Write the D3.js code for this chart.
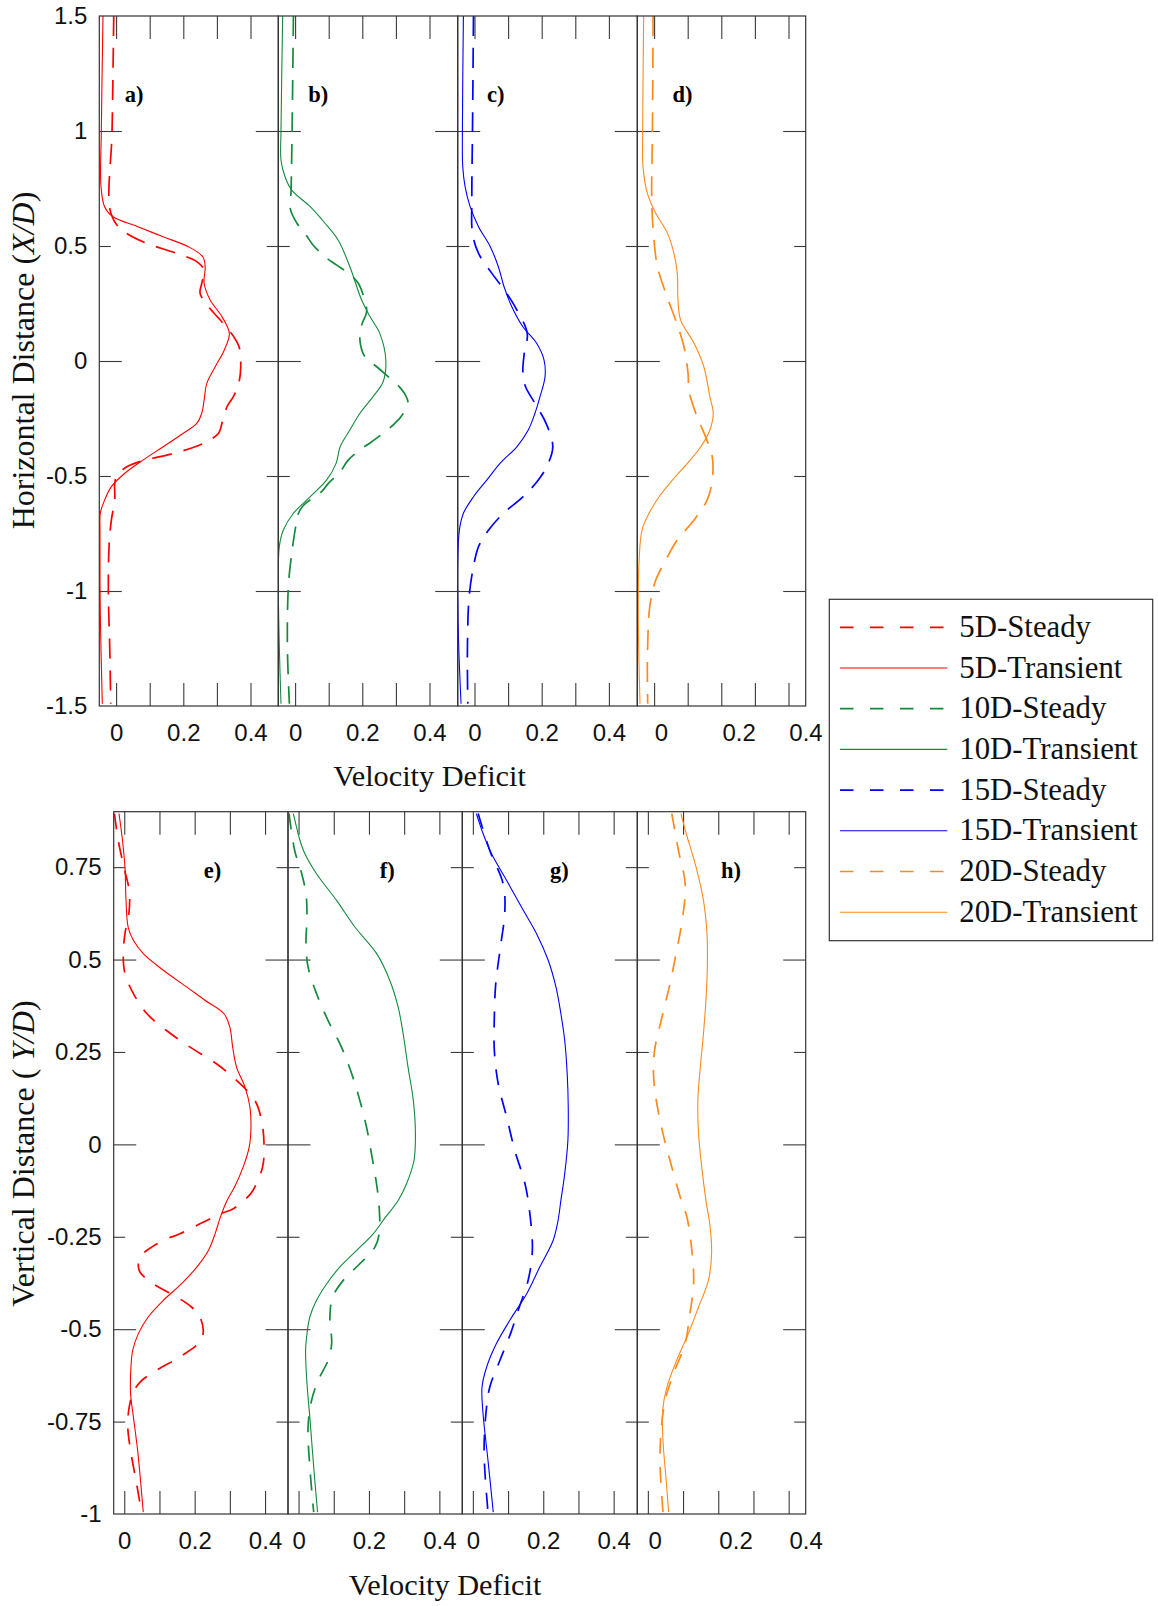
<!DOCTYPE html>
<html><head><meta charset="utf-8">
<script src="https://cdn.jsdelivr.net/npm/d3@7/dist/d3.min.js"></script>
<style>body{margin:0;background:#fff}</style>
</head><body>
<script>
// ---------------- DATA (position, velocity deficit) ----------------
const seriesNames = ["5D-Steady","5D-Transient","10D-Steady","10D-Transient","15D-Steady","15D-Transient","20D-Steady","20D-Transient"];
const topLetters = ["a)","b)","c)","d)"];
const botLetters = ["e)","f)","g)","h)"];
const xTickValues = [0,0.1,0.2,0.3,0.4];
const xTickLabels = [0,0.2,0.4];
const topYMajor = [-1,0,1];
const topYMinor = [-0.5,0.5];
const topYLabels = [-1.5,-1,-0.5,0,0.5,1,1.5];
const botYMajor = [-0.5,0,0.5];
const botYMinor = [-0.75,-0.25,0.25,0.75];
const botYLabels = [-1,-0.75,-0.5,-0.25,0,0.25,0.5,0.75];

// horizontal profiles (X/D, deficit)
const a_steady = [[1.5,-0.007],[1.0,-0.012],[0.657,-0.018],[0.584,0.006],[0.555,0.031],[0.512,0.09],[0.468,0.18],[0.432,0.24],[0.396,0.262],[0.338,0.255],[0.294,0.25],[0.236,0.275],[0.178,0.31],[0.106,0.35],[0.062,0.366],[-0.025,0.371],[-0.097,0.365],[-0.155,0.349],[-0.199,0.33],[-0.271,0.315],[-0.314,0.305],[-0.358,0.26],[-0.378,0.225],[-0.406,0.16],[-0.433,0.08],[-0.457,0.036],[-0.496,0.003],[-0.533,-0.004],[-0.604,-0.004],[-0.691,-0.014],[-0.807,-0.021],[-1.01,-0.023],[-1.242,-0.019],[-1.49,-0.016]];
const a_transient = [[1.5,-0.039],[1.0,-0.044],[0.76,-0.045],[0.67,-0.034],[0.627,-0.009],[0.584,0.065],[0.54,0.14],[0.497,0.215],[0.453,0.258],[0.41,0.265],[0.338,0.262],[0.265,0.28],[0.193,0.315],[0.12,0.337],[0.048,0.322],[-0.025,0.295],[-0.097,0.27],[-0.17,0.262],[-0.227,0.255],[-0.271,0.24],[-0.314,0.2],[-0.373,0.14],[-0.43,0.081],[-0.488,0.026],[-0.546,-0.014],[-0.604,-0.034],[-0.662,-0.047],[-0.735,-0.048],[-1.1,-0.047],[-1.49,-0.041]];
const b_steady = [[1.5,-0.005],[1.0,-0.009],[0.74,-0.012],[0.66,-0.014],[0.6,0.005],[0.547,0.033],[0.503,0.054],[0.453,0.089],[0.417,0.124],[0.381,0.158],[0.338,0.188],[0.258,0.208],[0.214,0.213],[0.156,0.198],[0.09,0.193],[0.018,0.208],[-0.025,0.243],[-0.068,0.277],[-0.104,0.305],[-0.14,0.325],[-0.184,0.336],[-0.242,0.315],[-0.271,0.297],[-0.314,0.262],[-0.351,0.228],[-0.387,0.193],[-0.431,0.158],[-0.482,0.134],[-0.532,0.099],[-0.568,0.079],[-0.626,0.026],[-0.662,0.01],[-0.735,0.0],[-0.836,-0.01],[-0.981,-0.02],[-1.24,-0.023],[-1.49,-0.017]];
const b_transient = [[1.5,-0.037],[1.0,-0.042],[0.874,-0.042],[0.801,-0.03],[0.743,-0.01],[0.671,0.045],[0.599,0.089],[0.526,0.128],[0.41,0.163],[0.265,0.198],[0.193,0.223],[0.12,0.252],[0.004,0.27],[-0.09,0.262],[-0.155,0.232],[-0.227,0.193],[-0.3,0.163],[-0.373,0.134],[-0.445,0.122],[-0.517,0.094],[-0.59,0.045],[-0.662,-0.005],[-0.735,-0.035],[-0.807,-0.047],[-0.952,-0.05],[-1.24,-0.047],[-1.49,-0.042]];
const c_steady = [[1.5,-0.003],[1.0,-0.006],[0.7,-0.008],[0.555,-0.006],[0.468,0.012],[0.381,0.052],[0.294,0.096],[0.222,0.126],[0.12,0.157],[0.033,0.148],[-0.054,0.144],[-0.112,0.152],[-0.184,0.18],[-0.271,0.213],[-0.373,0.233],[-0.459,0.215],[-0.517,0.19],[-0.59,0.145],[-0.662,0.086],[-0.735,0.042],[-0.807,0.012],[-0.894,-0.003],[-1.025,-0.016],[-1.24,-0.021],[-1.49,-0.02]];
const c_transient = [[1.5,-0.033],[1.0,-0.036],[0.845,-0.035],[0.758,-0.028],[0.671,-0.013],[0.584,0.012],[0.497,0.047],[0.41,0.071],[0.323,0.088],[0.236,0.111],[0.149,0.144],[0.077,0.185],[0.004,0.207],[-0.068,0.21],[-0.155,0.195],[-0.227,0.18],[-0.3,0.16],[-0.373,0.126],[-0.445,0.076],[-0.517,0.037],[-0.59,-0.003],[-0.662,-0.033],[-0.735,-0.045],[-0.88,-0.05],[-1.025,-0.05],[-1.24,-0.047],[-1.49,-0.04]];
const d_steady = [[1.5,-0.003],[1.0,-0.005],[0.7,-0.007],[0.555,-0.002],[0.41,0.01],[0.294,0.035],[0.178,0.064],[0.062,0.089],[-0.054,0.101],[-0.13,0.104],[-0.227,0.124],[-0.329,0.153],[-0.416,0.173],[-0.517,0.173],[-0.604,0.158],[-0.691,0.119],[-0.778,0.069],[-0.865,0.035],[-0.952,0.005],[-1.025,-0.008],[-1.096,-0.015],[-1.313,-0.02],[-1.49,-0.019]];
const d_transient = [[1.5,-0.031],[1.0,-0.034],[0.845,-0.033],[0.729,-0.02],[0.642,0.005],[0.555,0.04],[0.468,0.059],[0.381,0.069],[0.265,0.071],[0.178,0.079],[0.077,0.119],[-0.025,0.148],[-0.155,0.166],[-0.227,0.176],[-0.3,0.166],[-0.373,0.139],[-0.445,0.099],[-0.517,0.055],[-0.59,0.015],[-0.662,-0.015],[-0.735,-0.036],[-0.88,-0.045],[-1.025,-0.047],[-1.24,-0.046],[-1.49,-0.042]];

// vertical profiles (Y/D, deficit)
const e_steady = [[0.895,-0.028],[0.822,-0.017],[0.75,-0.001],[0.687,0.014],[0.633,0.014],[0.57,0.002],[0.516,-0.003],[0.462,0.002],[0.408,0.026],[0.354,0.064],[0.308,0.12],[0.263,0.187],[0.218,0.262],[0.173,0.319],[0.119,0.371],[0.065,0.39],[0.002,0.397],[-0.061,0.393],[-0.124,0.366],[-0.146,0.347],[-0.174,0.31],[-0.188,0.274],[-0.215,0.215],[-0.242,0.158],[-0.256,0.12],[-0.278,0.078],[-0.3,0.049],[-0.323,0.04],[-0.346,0.045],[-0.377,0.082],[-0.413,0.149],[-0.44,0.191],[-0.467,0.215],[-0.512,0.224],[-0.539,0.21],[-0.575,0.158],[-0.611,0.092],[-0.643,0.045],[-0.67,0.026],[-0.711,0.014],[-0.765,0.01],[-0.828,0.018],[-0.918,0.035],[-0.995,0.049]];
const e_transient = [[0.895,-0.015],[0.822,-0.005],[0.75,0.002],[0.66,0.005],[0.588,0.011],[0.552,0.026],[0.516,0.054],[0.471,0.111],[0.426,0.177],[0.39,0.229],[0.354,0.283],[0.317,0.3],[0.263,0.308],[0.209,0.319],[0.155,0.343],[0.101,0.357],[0.047,0.36],[-0.007,0.355],[-0.061,0.338],[-0.116,0.313],[-0.152,0.292],[-0.197,0.273],[-0.242,0.258],[-0.287,0.239],[-0.332,0.206],[-0.377,0.163],[-0.422,0.111],[-0.467,0.068],[-0.512,0.04],[-0.557,0.024],[-0.603,0.019],[-0.675,0.018],[-0.738,0.026],[-0.828,0.038],[-0.918,0.047],[-0.995,0.054]];
const f_steady = [[0.895,-0.027],[0.795,-0.011],[0.732,0.009],[0.678,0.021],[0.615,0.024],[0.543,0.021],[0.48,0.027],[0.408,0.051],[0.335,0.084],[0.263,0.122],[0.191,0.151],[0.119,0.174],[0.047,0.193],[-0.025,0.207],[-0.097,0.22],[-0.17,0.229],[-0.242,0.229],[-0.278,0.217],[-0.323,0.174],[-0.368,0.127],[-0.413,0.097],[-0.467,0.089],[-0.539,0.094],[-0.584,0.084],[-0.638,0.056],[-0.693,0.037],[-0.765,0.027],[-0.873,0.032],[-0.995,0.043]];
const f_transient = [[0.895,-0.015],[0.859,-0.006],[0.822,0.004],[0.786,0.018],[0.732,0.051],[0.66,0.108],[0.588,0.16],[0.516,0.222],[0.444,0.259],[0.371,0.283],[0.3,0.297],[0.209,0.311],[0.119,0.326],[0.029,0.332],[-0.043,0.328],[-0.106,0.307],[-0.152,0.283],[-0.197,0.247],[-0.242,0.212],[-0.287,0.165],[-0.332,0.117],[-0.377,0.08],[-0.422,0.051],[-0.467,0.032],[-0.512,0.024],[-0.557,0.02],[-0.648,0.024],[-0.738,0.032],[-0.873,0.043],[-0.995,0.054]];
const g_steady = [[0.895,0.015],[0.795,0.048],[0.705,0.086],[0.633,0.091],[0.525,0.077],[0.435,0.065],[0.344,0.061],[0.254,0.061],[0.164,0.072],[0.074,0.096],[-0.016,0.119],[-0.106,0.148],[-0.188,0.162],[-0.287,0.169],[-0.368,0.157],[-0.44,0.132],[-0.512,0.107],[-0.584,0.077],[-0.657,0.048],[-0.729,0.037],[-0.837,0.032],[-0.995,0.043]];
const g_transient = [[0.895,0.01],[0.841,0.029],[0.786,0.053],[0.714,0.096],[0.642,0.138],[0.57,0.181],[0.498,0.214],[0.426,0.236],[0.354,0.25],[0.281,0.261],[0.191,0.268],[0.101,0.271],[0.011,0.27],[-0.079,0.261],[-0.152,0.25],[-0.206,0.242],[-0.26,0.228],[-0.332,0.19],[-0.404,0.153],[-0.476,0.105],[-0.539,0.067],[-0.603,0.039],[-0.657,0.026],[-0.729,0.029],[-0.855,0.043],[-0.995,0.058]];
const h_steady = [[0.895,0.068],[0.795,0.087],[0.705,0.106],[0.615,0.099],[0.525,0.082],[0.435,0.063],[0.344,0.04],[0.254,0.019],[0.191,0.016],[0.119,0.024],[0.029,0.043],[-0.061,0.068],[-0.152,0.095],[-0.197,0.111],[-0.287,0.125],[-0.377,0.13],[-0.467,0.118],[-0.539,0.106],[-0.62,0.073],[-0.693,0.049],[-0.783,0.037],[-0.873,0.035],[-0.995,0.043]];
const h_transient = [[0.895,0.094],[0.841,0.109],[0.75,0.137],[0.66,0.158],[0.57,0.168],[0.48,0.169],[0.39,0.165],[0.3,0.158],[0.209,0.149],[0.119,0.142],[0.029,0.144],[-0.061,0.153],[-0.152,0.165],[-0.224,0.177],[-0.296,0.181],[-0.368,0.172],[-0.44,0.144],[-0.512,0.115],[-0.584,0.082],[-0.657,0.054],[-0.72,0.042],[-0.801,0.043],[-0.909,0.052],[-0.995,0.059]];

// ---------------- STYLE / LAYOUT ----------------
const colors = ["#ff0000","#148a3c","#0000ff","#ff8a1c"];
const SANS = "'Liberation Sans', Arial, sans-serif";
const SERIF = "'Liberation Serif', 'Times New Roman', serif";
const TOP = {edges:[99.3,278.3,457.7,637.3,805.7], yTop:16, yBot:706, yDomain:[-1.5,1.5], xMin:-0.05, ppu:336,
  letterX:[0.026,0.039,0.037,0.055], letterY:1.126, dash:"20,12"};
const BOT = {edges:[113.7,288,462.3,637.3,805.7], yTop:811.7, yBot:1514, yDomain:[-1,0.9], xMin:-0.03, ppu:352,
  letterX:[0.226,0.231,0.219,0.208], letterY:0.72, dash:"16,13"};

const svg = d3.select("body").append("svg").attr("width",1158).attr("height",1606)
  .style("font-family",SANS);
const defs = svg.append("defs");

function styleAxis(g){
  g.select(".domain").remove();
  g.selectAll(".tick line").attr("stroke","#3a3a3a").attr("stroke-width",1.1);
}

function drawGroup(cfg, panels, letters, yMajor, yMinor, yLabels, gid){
  const y = d3.scaleLinear().domain(cfg.yDomain).range([cfg.yBot, cfg.yTop]);
  panels.forEach((p,i)=>{
    const left = cfg.edges[i], right = cfg.edges[i+1];
    const x = d3.scaleLinear().domain([cfg.xMin, cfg.xMin + (right-left)/cfg.ppu]).range([left,right]);
    const g = svg.append("g");
    const cid = "clip"+gid+i;
    defs.append("clipPath").attr("id",cid).append("rect")
      .attr("x",left).attr("y",cfg.yTop).attr("width",right-left).attr("height",cfg.yBot-cfg.yTop);

    g.append("g").attr("transform",`translate(0,${cfg.yBot})`)
      .call(d3.axisTop(x).tickValues(xTickValues).tickSize(23).tickFormat("")).call(styleAxis);
    g.append("g").attr("transform",`translate(0,${cfg.yTop})`)
      .call(d3.axisBottom(x).tickValues(xTickValues).tickSize(23).tickFormat("")).call(styleAxis);
    g.append("g").attr("transform",`translate(${left},0)`)
      .call(d3.axisRight(y).tickValues(yMajor).tickSize(22.5).tickFormat("")).call(styleAxis);
    g.append("g").attr("transform",`translate(${left},0)`)
      .call(d3.axisRight(y).tickValues(yMinor).tickSize(11.5).tickFormat("")).call(styleAxis);
    g.append("g").attr("transform",`translate(${right},0)`)
      .call(d3.axisLeft(y).tickValues(yMajor).tickSize(22.5).tickFormat("")).call(styleAxis);
    g.append("g").attr("transform",`translate(${right},0)`)
      .call(d3.axisLeft(y).tickValues(yMinor).tickSize(11.5).tickFormat("")).call(styleAxis);

    const last = i === panels.length-1;
    const lx = last ? d3.scaleLinear().domain([0,0.2,0.4]).range([x(0)+6.7, x(0.2)+17.3, x(0.4)+17]) : x;
    const xl = g.append("g").attr("transform",`translate(0,${cfg.yBot})`)
      .call(d3.axisBottom(lx).tickValues(xTickLabels).tickSize(0).tickPadding(17.5).tickFormat(d=>String(d)));
    xl.select(".domain").remove();
    xl.selectAll("text").attr("font-size",24).attr("font-family",SANS).attr("fill","#111");

    if(i===0){
      const yl = g.append("g").attr("transform",`translate(${left},0)`)
        .call(d3.axisLeft(y).tickValues(yLabels).tickSize(0).tickPadding(12).tickFormat(d=>String(d)));
      yl.select(".domain").remove();
      yl.selectAll("text").attr("font-size",24).attr("font-family",SANS).attr("fill","#111");
    }

    const line = d3.line().x(d=>x(d[1])).y(d=>y(d[0])).curve(d3.curveCatmullRom.alpha(0.5));
    const lg = g.append("g").attr("clip-path",`url(#${cid})`);
    lg.append("path").datum(p.steady).attr("d",line).attr("fill","none")
      .attr("stroke",colors[i]).attr("stroke-width",1.7).attr("stroke-dasharray",cfg.dash);
    lg.append("path").datum(p.transient).attr("d",line).attr("fill","none")
      .attr("stroke",colors[i]).attr("stroke-width",1.1);

    g.append("rect").attr("x",left).attr("y",cfg.yTop).attr("width",right-left).attr("height",cfg.yBot-cfg.yTop)
      .attr("fill","none").attr("stroke","#333").attr("stroke-width",1.2);

    g.append("text").attr("x",x(cfg.letterX[i])).attr("y",y(cfg.letterY))
      .attr("font-family",SERIF).attr("font-weight","bold").attr("font-size",22.5).attr("fill","#000")
      .text(letters[i]);
  });
}

drawGroup(TOP,[
  {steady:a_steady, transient:a_transient},
  {steady:b_steady, transient:b_transient},
  {steady:c_steady, transient:c_transient},
  {steady:d_steady, transient:d_transient}], topLetters, topYMajor, topYMinor, topYLabels, "t");
drawGroup(BOT,[
  {steady:e_steady, transient:e_transient},
  {steady:f_steady, transient:f_transient},
  {steady:g_steady, transient:g_transient},
  {steady:h_steady, transient:h_transient}], botLetters, botYMajor, botYMinor, botYLabels, "b");

svg.append("text").attr("x",429.5).attr("y",786).attr("text-anchor","middle")
  .attr("font-family",SERIF).attr("font-size",30.3).attr("fill","#111").text("Velocity Deficit");
svg.append("text").attr("x",445).attr("y",1595).attr("text-anchor","middle")
  .attr("font-family",SERIF).attr("font-size",30.3).attr("fill","#111").text("Velocity Deficit");

const t1 = svg.append("text").attr("transform","translate(34,360.5) rotate(-90)").attr("text-anchor","middle")
  .attr("font-family",SERIF).attr("font-size",32).attr("fill","#111");
t1.append("tspan").text("Horizontal Distance (");
t1.append("tspan").attr("font-style","italic").text("X/D");
t1.append("tspan").text(")");
const t2 = svg.append("text").attr("transform","translate(34,1153.5) rotate(-90)").attr("text-anchor","middle")
  .attr("font-family",SERIF).attr("font-size",32).attr("fill","#111");
t2.append("tspan").text("Vertical Distance ( ");
t2.append("tspan").attr("font-style","italic").text("Y/D");
t2.append("tspan").text(")");

const leg = svg.append("g");
leg.append("rect").attr("x",829.3).attr("y",599.3).attr("width",323.4).attr("height",341.4)
  .attr("fill","#fff").attr("stroke","#333").attr("stroke-width",1.2);
seriesNames.forEach((name,k)=>{
  const cy = 627.3 + k*40.7;
  const col = colors[Math.floor(k/2)];
  const steady = k%2===0;
  leg.append("line").attr("x1",840).attr("x2",947.3).attr("y1",cy).attr("y2",cy)
    .attr("stroke",col).attr("stroke-width",steady?1.7:1.1)
    .attr("stroke-dasharray",steady?"13.5,16.5":null);
  leg.append("text").attr("x",959.3).attr("y",cy+9.6).attr("font-family",SERIF)
    .attr("font-size",30.8).attr("fill","#111").text(name);
});
</script>
</body></html>
